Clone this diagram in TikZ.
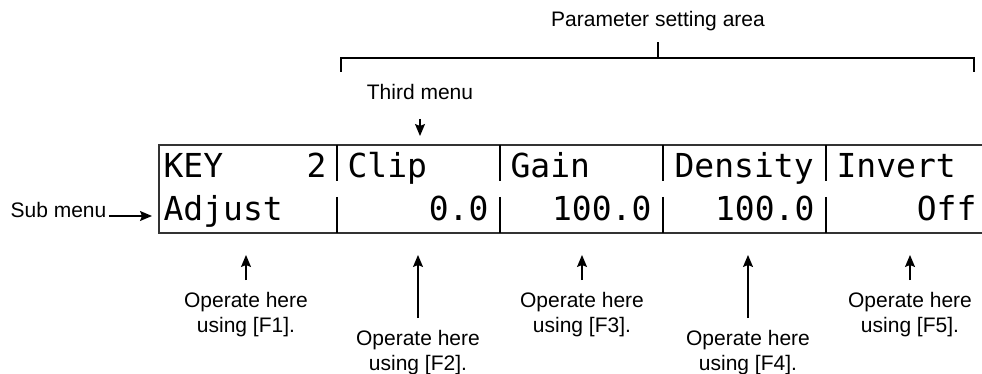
\documentclass[tikz,border=0pt]{standalone}
\usepackage{fontspec}
\setmainfont{Liberation Sans}
\newfontfamily\lcdfont{DejaVu Sans Mono}
\usepackage{tikz}
\usetikzlibrary{positioning}
\usetikzlibrary{arrows.meta}
\usetikzlibrary{calc}

\begin{document}
\begin{tikzpicture}[
            line width = 1.2pt, % line style
            pointer/.style = {-{Stealth[length=12pt, width=10pt, inset=2pt]}} % arrow head style
        ]

        \tikzstyle{note}=[
            inner sep = 0pt,
            align = center,
            font = \fontsize{21}{25}\selectfont
        ]
        \tikzstyle{lcd}=[
            inner sep = 0pt,
            font = \lcdfont\fontsize{33}{38}\selectfont
        ]
        \tikzstyle{screen}=[line width = 1.8pt, black!80]

    \begin{scope}[x = 1pt, y = -1pt] % one unit per pixel, y going down
        \useasboundingbox (0,0) rectangle (982,374);

	% display frame
        \draw[screen] (982,145) -- (159,145) -- (159,233) -- (982,233);
        \foreach \x in {337,500,663,826} {
            \draw[line width=1.5pt] (\x,145) -- (\x,181);
            \draw[line width=1.5pt] (\x,197) -- (\x,233);
        }

        % third menu row
        \node[lcd, anchor=base west] (key) at (163,178) {KEY};
        \node[lcd, anchor=base east] (keyno) at (327,178) {2};
        \node[lcd, anchor=base west] (clip) at (347,178) {Clip};
        \node[lcd, anchor=base west] (gain) at (510,178) {Gain};
        \node[lcd, anchor=base west] (dens) at (674,178) {Density};
        \node[lcd, anchor=base west] (inv) at (836,178) {Invert};

        % sub menu row
        \node[lcd, anchor=base west] (adj) at (163,221) {Adjust};
        \node[lcd, anchor=base east] (clipval) at (489,221) {0.0};
        \node[lcd, anchor=base east] (gainval) at (652,221) {100.0};
        \node[lcd, anchor=base east] (densval) at (815,221) {100.0};
        \node[lcd, anchor=base east] (invval) at (977,221) {Off};

        % parameter setting area
        \node[note, anchor=base] (param) at (658,27) {Parameter setting area};
        \coordinate (brace) at (658,58);
        \draw (341,72) -- (341,58) -- (974,58) -- (974,72);
        \draw[shorten >=10pt] (brace) -- (param);

        % third menu
        \node[note, anchor=base] (third) at (420,100) {Third menu};
        \coordinate (thirdtip) at (420,136);
        \draw[pointer, shorten <=18pt] (third) -- (thirdtip);

        % sub menu
        \node[note, anchor=base west] (sub) at (10,218) {Sub menu};
        \coordinate (subtip) at (152,216);
        \draw[pointer, shorten <=2pt] (sub.east |- subtip) -- (subtip);

        % function keys
        \foreach \n/\x/\y in {1/246/292, 2/418/330, 3/582/292, 4/748/330, 5/910/292} {
            \node[note, anchor=north] (op\n) at (\x,\y) {Operate here\\using [F\n].};
            \coordinate (tip\n) at (\x,255);
            \draw[pointer, shorten <=12pt] (op\n) -- (tip\n);
        }
    \end{scope}

\end{tikzpicture}
\end{document}
